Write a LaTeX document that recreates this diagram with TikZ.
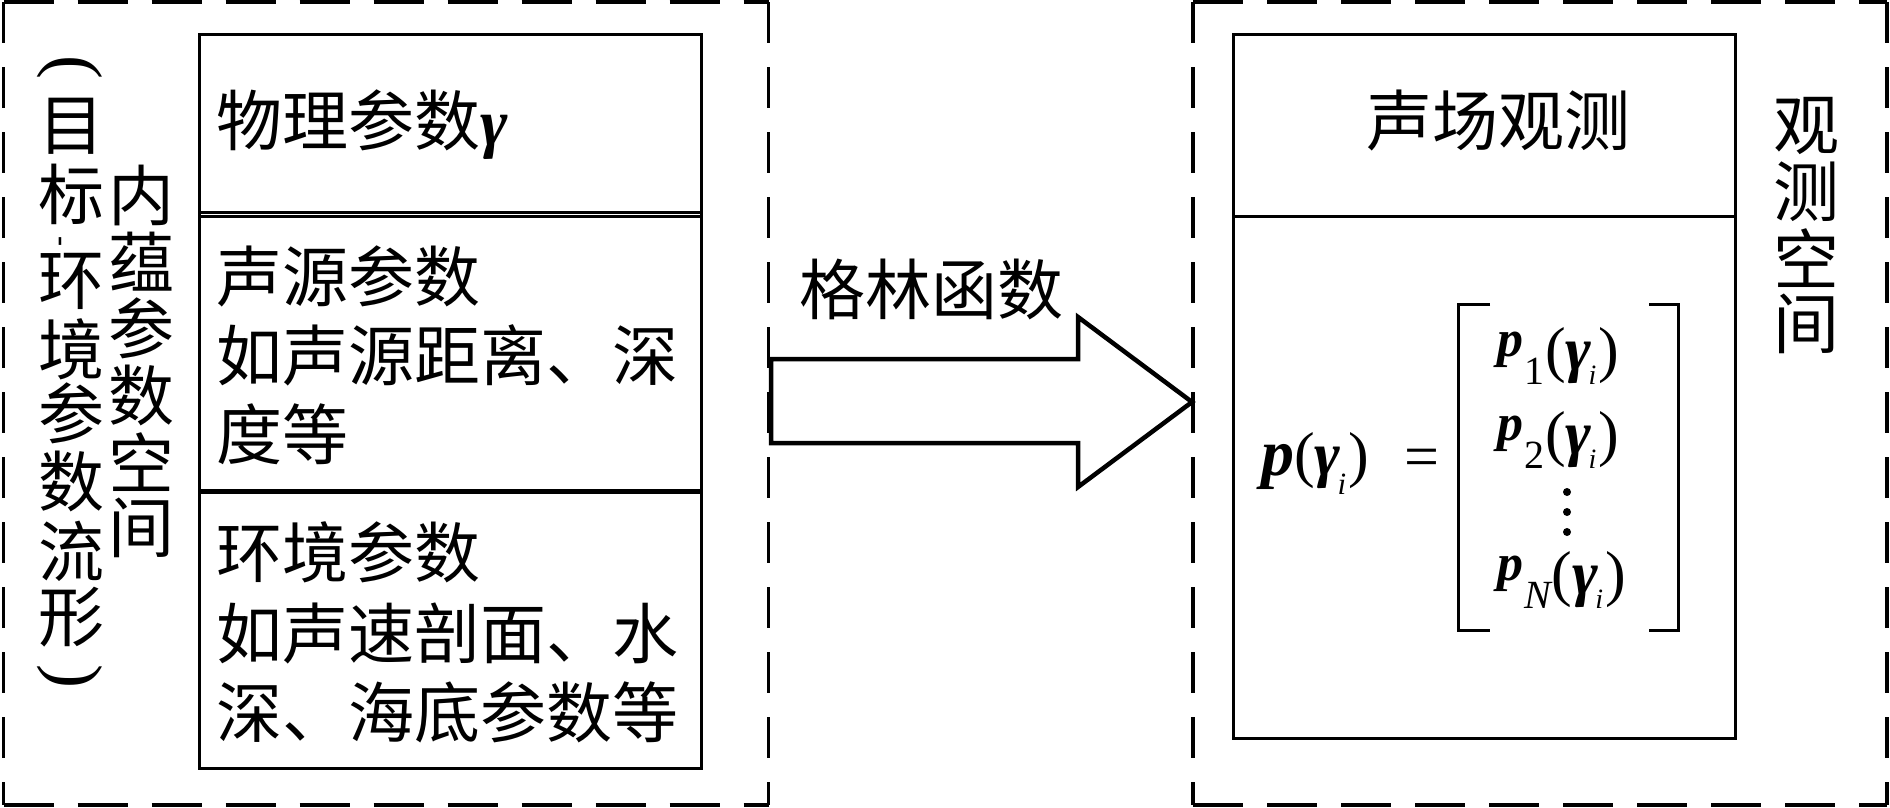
\documentclass[tikz,border=0pt]{standalone}
\usepackage{graphicx}
\usepackage{fontspec}
\newfontfamily\cjk{Noto Sans CJK SC}
\newfontfamily\tms{Liberation Serif}
\newcommand\bp{{\tms\bfseries\itshape p}}
\newcommand\bgam{{\tms\bfseries\itshape γ}}
\newcommand\subi[2]{\kern-3pt\raisebox{-#2pt}{\fontsize{#1}{#1}\selectfont\tms\itshape i}}
\newcommand\pent[1]{\raisebox{14pt}{\fontsize{52}{52}\selectfont\bp}\kern1pt\raisebox{-14pt}{\fontsize{40}{40}\selectfont\tms #1}\kern1pt{\tms(}\bgam\subi{28}{14}\kern2pt{\tms)}}
\begin{document}
\begin{tikzpicture}[x=1pt,y=-1pt,
  solidbox/.style={line width=3pt},
  dashh/.style={line width=3.5pt,dash pattern=on 50pt off 24pt},
  dashv/.style={line width=3.5pt,dash pattern=on 41pt off 24pt},
  txt/.style={inner sep=0pt,font=\cjk\fontsize{66}{80}\selectfont},
  line/.style={txt,anchor=base west},
  vch/.style={txt,anchor=center},
  parn/.style={inner sep=0pt,font=\tms\fontsize{72}{72}\selectfont,anchor=center},
  mth/.style={inner sep=0pt,font=\tms\fontsize{62}{62}\selectfont,anchor=base west},
  bigarrow/.style={line width=4.5pt,line join=miter}]
\useasboundingbox (0,0) rectangle (1890,807);
% left dashed region
\draw[dashh] (3.5,2) -- (768.5,2);
\draw[dashh] (3.5,805) -- (768.5,805);
\draw[dashv] (3.5,2) -- (3.5,805);
\draw[dashv] (768.5,2) -- (768.5,805);
% right dashed region
\draw[dashh] (1193,2) -- (1887,2);
\draw[dashh] (1193,805) -- (1887,805);
\draw[dashv] (1193,2) -- (1193,805);
\draw[dashv] (1887,2) -- (1887,805);
% left inner box
\draw[solidbox] (199,34) rectangle (701,768);
\draw[solidbox] (199,212.5) -- (701,212.5);
\draw[solidbox] (199,216.6) -- (701,216.6);
\draw[line width=5pt] (199,491) -- (701,491);
% right inner box
\draw[solidbox] (1233,34) rectangle (1735,738);
\draw[solidbox] (1233,216) -- (1735,216);
% big arrow
\coordinate (at) at (1192,402);
\draw[bigarrow] (771,359) -- (1078,359) -- (1078,317) -- (at) -- (1078,487) -- (1078,443) -- (771,443) -- cycle;
\node[txt,anchor=base] (green) at (931,314) {格林函数};
% left box texts
\node[line] (phys) at (216,145) {物理参数{\tms\bfseries\itshape γ}};
\node[line] (src1) at (216,301) {声源参数};
\node[line] (src2) at (216,380) {如声源距离、深};
\node[line] (src3) at (216,459) {度等};
\node[line] (env1) at (216,577) {环境参数};
\node[line] (env2) at (216,658) {如声速剖面、水};
\node[line] (env3) at (216,737) {深、海底参数等};
% vertical column 1
\node[parn] (lpar) at (70,67) {\rotatebox{-90}{(}};
\node[vch] (c1) at (71,126) {目};
\node[vch] (c2) at (71,194) {标};
\node[inner sep=0pt,font=\tms\bfseries\fontsize{30}{30}\selectfont,anchor=center] (dsh) at (63,241) {\rotatebox{90}{-}};
\node[vch] (c3) at (71,281) {环};
\node[vch] (c4) at (71,349) {境};
\node[vch] (c5) at (71,413) {参};
\node[vch] (c6) at (71,481) {数};
\node[vch] (c7) at (71,551) {流};
\node[vch] (c8) at (71,617) {形};
\node[parn] (rpar) at (70,676) {\rotatebox{-90}{)}};
% vertical column 2
\node[vch] (d1) at (141,195) {内};
\node[vch] (d2) at (141,262) {蕴};
\node[vch] (d3) at (141,328) {参};
\node[vch] (d4) at (141,395) {数};
\node[vch] (d5) at (141,462) {空};
\node[vch] (d6) at (141,528) {间};
% right texts
\node[txt,anchor=base] (obs) at (1498,145) {声场观测};
\node[vch] (e1) at (1806,126) {观};
\node[vch] (e2) at (1806,192) {测};
\node[vch] (e3) at (1806,258) {空};
\node[vch] (e4) at (1806,324) {间};
% equation
\node[mth] (lhs) at (1261,475) {{\fontsize{66}{66}\selectfont\bp}(\bgam\subi{31}{19}\kern2pt)};
\node[mth,anchor=base] (eq) at (1422,477) {=};
\node[mth] (p1) at (1497,370) {\pent{1}};
\node[mth] (p2) at (1497,454) {\pent{2}};
\node[mth] (pN) at (1497,594) {\pent{\itshape N}};
\fill (1567,492) circle (4) (1567,512) circle (4) (1567,532) circle (4);
\draw[solidbox] (1490,304) -- (1458,304) -- (1458,630) -- (1490,630);
\draw[solidbox] (1649,304) -- (1678,304) -- (1678,630) -- (1649,630);
\end{tikzpicture}
\end{document}
